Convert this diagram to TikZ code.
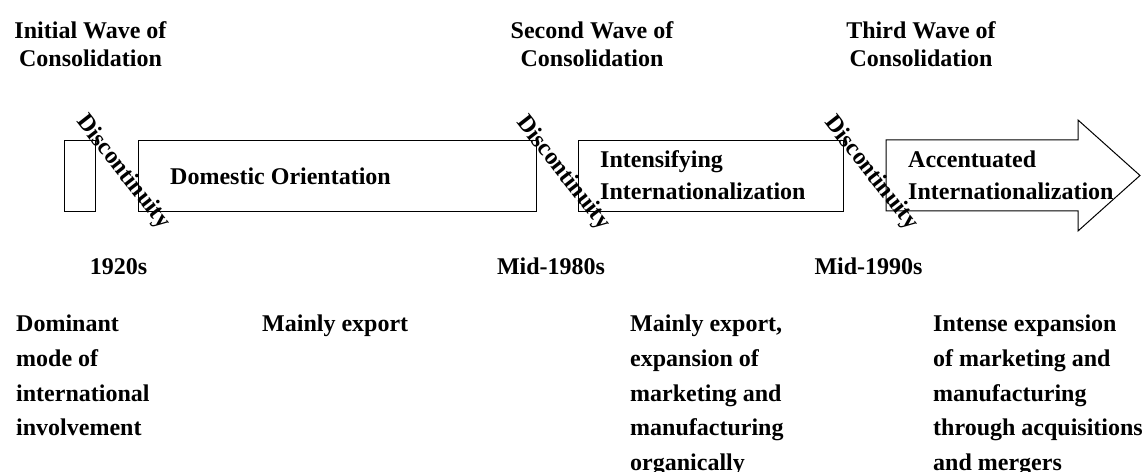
\documentclass[tikz,border=0pt]{standalone}
\usepackage{fontspec}
\setmainfont{Liberation Serif}
% stacked lines with a fixed line pitch; baseline at the first line
\newcommand\textstack[3]{{\fontsize{24bp}{#1}\selectfont\begin{tabular}[t]{@{}#2@{}}#3\end{tabular}}}
\begin{document}
\begin{tikzpicture}[x=1bp,y=-1bp,
  frame/.style={draw=black, line width=1bp, inner sep=0, anchor=north west, minimum height=71bp},
  txt/.style={inner sep=0, font=\bfseries\fontsize{24bp}{27.5bp}\selectfont},
  gaplabel/.style={txt, rotate=-52},
  period/.style={txt, anchor=base},
  note/.style={txt, anchor=base west}]
\useasboundingbox (0,0) rectangle (1146,472);

% wave headings
\node[txt, anchor=base] (wave1) at (90.5,39) {\textstack{27.5bp}{c}{Initial Wave of\\Consolidation}};
\node[txt, anchor=base] (wave2) at (592,39) {\textstack{27.5bp}{c}{Second Wave of\\Consolidation}};
\node[txt, anchor=base] (wave3) at (921,39) {\textstack{27.5bp}{c}{Third Wave of\\Consolidation}};

% phase boxes
\node[frame, minimum width=31bp] (pre) at (64,140) {};
\node[frame, minimum width=398bp] (dom) at (138,140) {};
\node[frame, minimum width=265bp] (intl) at (578,140) {};
\coordinate (arrtail) at (886,140);
\draw[line width=1bp, line join=miter] (arrtail) -- (1078,140) -- (1078,120) -- (1140,175.5)
  -- (1078,231) -- (1078,211) -- (886,211) -- cycle;

\node[note] (domtxt) at (170,185) {Domestic Orientation};
\node[note] (inttxt) at (600,168) {\textstack{32bp}{l}{Intensifying\\Internationalization}};
\node[note] (acctxt) at (908,168) {\textstack{32bp}{l}{Accentuated\\Internationalization}};

% discontinuities between phases
\node[gaplabel] (gap1) at (123,172) {Discontinuity};
\node[gaplabel] (gap2) at (563,173) {Discontinuity};
\node[gaplabel] (gap3) at (871,173) {Discontinuity};

% dates
\node[period] (d1) at (118.5,275) {1920s};
\node[period] (d2) at (551,275) {Mid-1980s};
\node[period] (d3) at (868.5,275) {Mid-1990s};

% dominant mode of international involvement
\node[note] (mode) at (16,332) {\textstack{34.6bp}{l}{Dominant\\mode of\\international\\involvement}};
\node[note] (m1) at (262,332) {Mainly export};
\node[note] (m2) at (630,332) {\textstack{34.6bp}{l}{Mainly export,\\expansion of\\marketing and\\manufacturing\\organically}};
\node[note] (m3) at (933,332) {\textstack{34.6bp}{l}{Intense expansion\\of marketing and\\manufacturing\\through acquisitions\\and mergers}};
\end{tikzpicture}
\end{document}
